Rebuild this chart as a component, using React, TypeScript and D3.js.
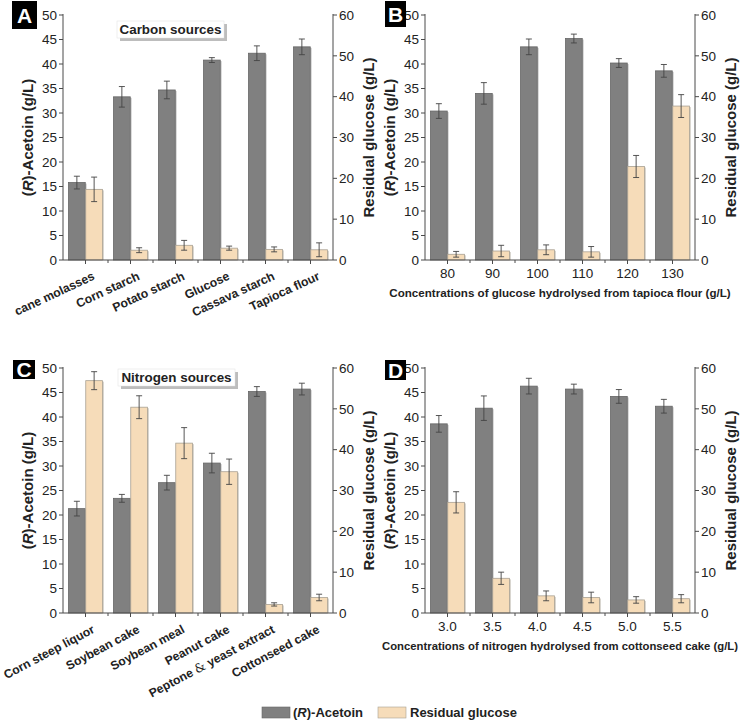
import React from "react";
import * as d3 from "d3";

const carbonCats = ["cane molasses", "Corn starch", "Potato starch", "Glucose", "Cassava starch", "Tapioca flour"];
const carbonAcetoin = [15.8, 33.3, 34.7, 40.8, 42.2, 43.5];
const carbonAcetoinErr = [1.3, 2.1, 1.8, 0.5, 1.5, 1.6];
const carbonGlucose = [17.3, 2.4, 3.6, 2.9, 2.6, 2.5];
const carbonGlucoseErr = [3.0, 0.6, 1.2, 0.5, 0.6, 1.7];

const glucoseConcCats = ["80", "90", "100", "110", "120", "130"];
const glucoseConcAcetoin = [30.4, 34.0, 43.5, 45.2, 40.2, 38.6];
const glucoseConcAcetoinErr = [1.5, 2.2, 1.6, 0.9, 0.9, 1.3];
const glucoseConcGlucose = [1.4, 2.2, 2.5, 2.0, 22.9, 37.7];
const glucoseConcGlucoseErr = [0.7, 1.4, 1.2, 1.3, 2.7, 2.8];

const nitrogenCats = ["Corn steep liquor", "Soybean cake", "Soybean meal", "Peanut cake", "Peptone & yeast extract", "Cottonseed cake"];
const nitrogenAcetoin = [21.3, 23.4, 26.6, 30.6, 45.2, 45.7];
const nitrogenAcetoinErr = [1.5, 0.8, 1.5, 2.0, 1.0, 1.2];
const nitrogenGlucose = [56.9, 50.4, 41.6, 34.6, 2.1, 3.8];
const nitrogenGlucoseErr = [2.2, 2.8, 3.8, 3.1, 0.4, 0.8];

const nitrogenConcCats = ["3.0", "3.5", "4.0", "4.5", "5.0", "5.5"];
const nitrogenConcAcetoin = [38.6, 41.8, 46.3, 45.7, 44.2, 42.2];
const nitrogenConcAcetoinErr = [1.7, 2.5, 1.6, 1.0, 1.4, 1.4];
const nitrogenConcGlucose = [27.1, 8.5, 4.2, 3.8, 3.2, 3.5];
const nitrogenConcGlucoseErr = [2.6, 1.5, 1.2, 1.3, 0.8, 1.0];

const leftTicks = [0, 5, 10, 15, 20, 25, 30, 35, 40, 45, 50];
const rightTicks = [0, 10, 20, 30, 40, 50, 60];

const GRAY = "#808080";
const GRAY_STROKE = "#666666";
const TAN = "#f6dcb9";
const TAN_STROKE = "#a9a193";
const AXIS = "#4a4a4a";
const TEXT = "#222";
const FONT = "Liberation Sans, Arial, sans-serif";

type PanelProps = {
  letter: string;
  x0: number; x1: number; y0: number; y1: number;
  cats: string[];
  acetoin: number[]; acetoinErr: number[];
  glucose: number[]; glucoseErr: number[];
  rotated: boolean;
  angle?: number;
  xTitle?: string;
  xTitleSize?: number;
  box?: { text: string; x: number; y: number; w: number; h: number };
  letterBox: { x: number; y: number; w: number; h: number };
};

function Panel(p: PanelProps) {
  const x = d3.scaleBand<string>().domain(p.cats).range([p.x0, p.x1]).padding(0);
  const sub = d3.scaleBand<string>().domain(["a", "g"]).range([5.5, x.bandwidth() - 5.5]).paddingInner(0.03);
  const yL = d3.scaleLinear().domain([0, 50]).range([p.y1, p.y0]);
  const yR = d3.scaleLinear().domain([0, 60]).range([p.y1, p.y0]);
  const bw = sub.bandwidth();

  const errBar = (cx: number, top: number, lo: number, key: string) => (
    <g key={key} stroke="#444" strokeWidth={0.9}>
      <line x1={cx} x2={cx} y1={top} y2={lo} />
      <line x1={cx - 3} x2={cx + 3} y1={top} y2={top} />
      <line x1={cx - 3} x2={cx + 3} y1={lo} y2={lo} />
    </g>
  );

  return (
    <g fontFamily={FONT}>
      {p.cats.map((c, i) => {
        const gx = (x(c) as number) + (sub("a") as number);
        const tx = (x(c) as number) + (sub("g") as number);
        const ga = yL(p.acetoin[i]);
        const tg = yR(p.glucose[i]);
        return (
          <g key={c}>
            <rect x={gx + 1.5} y={ga + 1} width={bw} height={p.y1 - ga - 1} fill="#cfcfcf" />
            <rect x={gx} y={ga} width={bw} height={p.y1 - ga} fill={GRAY} stroke={GRAY_STROKE} strokeWidth={0.8} />
            <rect x={tx + 1.5} y={tg + 1} width={bw} height={p.y1 - tg - 1} fill="#d9d6d0" />
            <rect x={tx} y={tg} width={bw} height={p.y1 - tg} fill={TAN} stroke={TAN_STROKE} strokeWidth={0.8} />
            {errBar(gx + bw / 2, yL(p.acetoin[i] + p.acetoinErr[i]), yL(p.acetoin[i] - p.acetoinErr[i]), "ea")}
            {errBar(tx + bw / 2, yR(p.glucose[i] + p.glucoseErr[i]), yR(Math.max(0, p.glucose[i] - p.glucoseErr[i])), "eg")}
          </g>
        );
      })}
      <line x1={p.x0} x2={p.x0} y1={p.y0 - 1} y2={p.y1} stroke={AXIS} strokeWidth={1} />
      <line x1={p.x1} x2={p.x1} y1={p.y0 - 1} y2={p.y1} stroke={AXIS} strokeWidth={1} />
      <line x1={p.x0} x2={p.x1} y1={p.y1} y2={p.y1} stroke={AXIS} strokeWidth={1} />
      {leftTicks.map((t) => (
        <g key={"l" + t}>
          <line x1={p.x0 - 4} x2={p.x0} y1={yL(t)} y2={yL(t)} stroke={AXIS} />
          <text x={p.x0 - 6} y={yL(t)} dy="0.35em" textAnchor="end" fontSize={13.5} fill={TEXT}>{t}</text>
        </g>
      ))}
      {rightTicks.map((t) => (
        <g key={"r" + t}>
          <line x1={p.x1} x2={p.x1 + 4} y1={yR(t)} y2={yR(t)} stroke={AXIS} />
          <text x={p.x1 + 6} y={yR(t)} dy="0.35em" textAnchor="start" fontSize={13.5} fill={TEXT}>{t}</text>
        </g>
      ))}
      {p.cats.map((c, i) => {
        const cx = (x(c) as number) + x.bandwidth() / 2;
        return (
          <g key={"bt" + c}>
            <line x1={cx} x2={cx} y1={p.y1} y2={p.y1 + 4} stroke={AXIS} />
            {i > 0 && <line x1={x(c) as number} x2={x(c) as number} y1={p.y1} y2={p.y1 + 3} stroke={AXIS} />}
          </g>
        );
      })}
      {p.cats.map((c) => {
        const cx = (x(c) as number) + x.bandwidth() / 2;
        if (p.rotated) {
          const parts = c.split("&");
          return (
            <text key={"cl" + c} transform={`translate(${cx + 10},${p.y1 + 19}) rotate(${p.angle ?? -25})`} textAnchor="end" fontSize={12.2} fontWeight="bold" fill={TEXT}>
              {parts.length > 1 ? (
                <>
                  {parts[0]}
                  <tspan fontFamily="DejaVu Serif, serif" fontWeight="normal">&amp;</tspan>
                  {parts[1]}
                </>
              ) : c}
            </text>
          );
        }
        return (
          <text key={"cl" + c} x={cx} y={p.y1 + 18} textAnchor="middle" fontSize={13.5} fill={TEXT}>{c}</text>
        );
      })}
      {p.xTitle && (
        <text x={(p.x0 + p.x1) / 2} y={p.y1 + 37} textAnchor="middle" fontSize={p.xTitleSize ?? 11.5} fontWeight="bold" fill={TEXT}>{p.xTitle}</text>
      )}
      <text transform={`translate(${p.x0 - 30},${(p.y0 + p.y1) / 2}) rotate(-90)`} textAnchor="middle" fontSize={15} fontWeight="bold" fill={TEXT}>
        (<tspan fontStyle="italic">R</tspan>)-Acetoin (g/L)
      </text>
      <text transform={`translate(${p.x1 + 41},${(p.y0 + p.y1) / 2}) rotate(-90)`} textAnchor="middle" fontSize={15} fontWeight="bold" fill={TEXT}>
        Residual glucose (g/L)
      </text>
      {p.box && (
        <g>
          <rect x={p.box.x + 3} y={p.box.y + 3} width={p.box.w} height={p.box.h} fill="#bdbdbd" />
          <rect x={p.box.x} y={p.box.y} width={p.box.w} height={p.box.h} fill="#fff" stroke="#e0e0e0" strokeWidth={0.5} />
          <text x={p.box.x + p.box.w / 2} y={p.box.y + p.box.h / 2} dy="0.36em" textAnchor="middle" fontSize={13.4} fontWeight="bold" fill={TEXT}>{p.box.text}</text>
        </g>
      )}
      <rect x={p.letterBox.x} y={p.letterBox.y} width={p.letterBox.w} height={p.letterBox.h} fill="#000" />
      <text x={p.letterBox.x + p.letterBox.w / 2} y={p.letterBox.y + p.letterBox.h / 2} dy="0.36em" textAnchor="middle" fontSize={21} fontWeight="bold" fill="#fff">{p.letter}</text>
    </g>
  );
}

export default function App() {
  return (
    <svg width={740} height={720} style={{ position: "absolute", left: 0, top: 0, background: "#fff" }} fontFamily={FONT}>
      <rect width={740} height={720} fill="#fff" />
      <Panel letter="A" x0={63} x1={333} y0={15} y1={260} cats={carbonCats}
        acetoin={carbonAcetoin} acetoinErr={carbonAcetoinErr} glucose={carbonGlucose} glucoseErr={carbonGlucoseErr}
        rotated={true} angle={-25} box={{ text: "Carbon sources", x: 117, y: 21, w: 107, h: 17 }}
        letterBox={{ x: 12, y: 1, w: 25, h: 28 }} />
      <Panel letter="B" x0={425} x1={695} y0={15} y1={260} cats={glucoseConcCats}
        acetoin={glucoseConcAcetoin} acetoinErr={glucoseConcAcetoinErr} glucose={glucoseConcGlucose} glucoseErr={glucoseConcGlucoseErr}
        rotated={false} xTitle="Concentrations of glucose hydrolysed from tapioca flour (g/L)" xTitleSize={11.6}
        letterBox={{ x: 385, y: 1, w: 21, h: 26 }} />
      <Panel letter="C" x0={63} x1={333} y0={368} y1={613} cats={nitrogenCats}
        acetoin={nitrogenAcetoin} acetoinErr={nitrogenAcetoinErr} glucose={nitrogenGlucose} glucoseErr={nitrogenGlucoseErr}
        rotated={true} angle={-28} box={{ text: "Nitrogen sources", x: 118, y: 369, w: 117, h: 17 }}
        letterBox={{ x: 13, y: 360, w: 22, h: 19 }} />
      <Panel letter="D" x0={425} x1={695} y0={368} y1={613} cats={nitrogenConcCats}
        acetoin={nitrogenConcAcetoin} acetoinErr={nitrogenConcAcetoinErr} glucose={nitrogenConcGlucose} glucoseErr={nitrogenConcGlucoseErr}
        rotated={false} xTitle="Concentrations of nitrogen hydrolysed from cottonseed cake (g/L)" xTitleSize={11.3}
        letterBox={{ x: 385, y: 360, w: 21, h: 20 }} />
      <g fontFamily={FONT}>
        <rect x={262} y={707} width={28} height={11} fill={GRAY} stroke={GRAY_STROKE} strokeWidth={0.6} />
        <text x={293} y={712.5} dy="0.36em" fontSize={13} fontWeight="bold" fill={TEXT}>
          (<tspan fontStyle="italic">R</tspan>)-Acetoin
        </text>
        <rect x={378} y={707} width={28} height={11} fill={TAN} stroke={TAN_STROKE} strokeWidth={0.6} />
        <text x={410} y={712.5} dy="0.36em" fontSize={13} fontWeight="bold" fill={TEXT}>Residual glucose</text>
      </g>
    </svg>
  );
}
